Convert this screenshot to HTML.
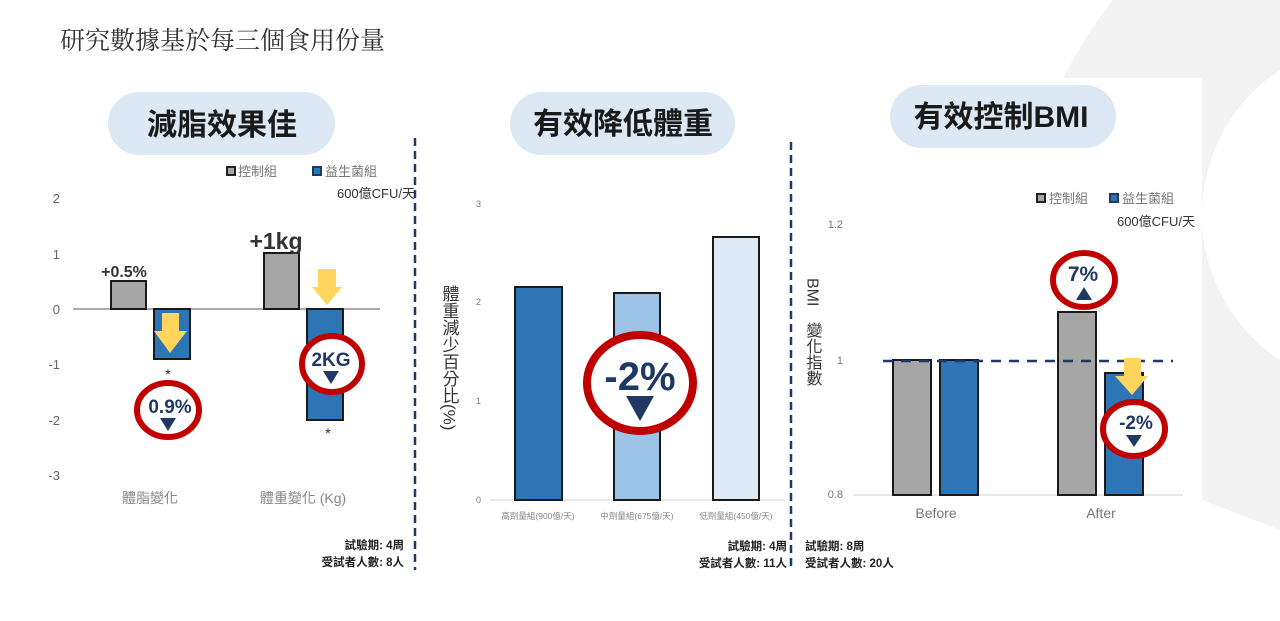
<!DOCTYPE html>
<html><head><meta charset="utf-8"><style>
html,body{margin:0;padding:0;background:#fff;}
svg{display:block;}
text{font-family:"Liberation Sans","Noto Sans CJK TC",sans-serif;}
.ser{font-family:"Liberation Serif","Noto Serif CJK SC",serif;}
.b{font-weight:bold;}
</style></head><body>
<svg width="1280" height="621" viewBox="0 0 1280 621" xmlns="http://www.w3.org/2000/svg">
<rect width="1280" height="621" fill="#fff"/>
<!-- background swoosh -->
<path d="M1113,0 L1280,0 L1280,530 L1202,500 L1202,78 L1063,78 Q1085,35 1113,0 Z" fill="#f3f3f3"/>
<circle cx="1376" cy="215" r="174" fill="#fff"/>
<rect x="1180" y="78" width="22" height="440" fill="#fff"/>

<text class="ser" x="60" y="49" font-size="25" fill="#333">研究數據基於每三個食用份量</text>

<!-- ===== Panel 1 ===== -->
<rect x="108" y="92" width="227" height="63" rx="31.5" fill="#dce8f4"/>
<text x="222" y="135" font-size="30" class="b" text-anchor="middle" fill="#1a1a1a">減脂效果佳</text>

<rect x="227" y="167" width="8" height="8" fill="#a6a6a6" stroke="#222" stroke-width="2"/>
<text x="238" y="176" font-size="13" fill="#777">控制組</text>
<rect x="313" y="167" width="8" height="8" fill="#2e75b6" stroke="#1f3864" stroke-width="2"/>
<text x="325" y="176" font-size="13" fill="#777">益生菌組</text>
<text x="415" y="198" font-size="13" text-anchor="end" fill="#333">600億CFU/天</text>

<g font-size="13" fill="#666" text-anchor="end">
<text x="60" y="203">2</text>
<text x="60" y="259">1</text>
<text x="60" y="314">0</text>
<text x="60" y="369">-1</text>
<text x="60" y="425">-2</text>
<text x="60" y="480">-3</text>
</g>
<line x1="73" y1="309" x2="380" y2="309" stroke="#777" stroke-width="1.2"/>

<rect x="111" y="281" width="35" height="28" fill="#a6a6a6" stroke="#1a1a1a" stroke-width="2"/>
<rect x="154" y="309" width="36" height="50" fill="#2e75b6" stroke="#1a1a1a" stroke-width="2"/>
<rect x="264" y="253" width="35" height="56" fill="#a6a6a6" stroke="#1a1a1a" stroke-width="2"/>
<rect x="307" y="309" width="36" height="111" fill="#2e75b6" stroke="#1a1a1a" stroke-width="2"/>

<text x="124" y="277" font-size="16" class="b" text-anchor="middle" fill="#333">+0.5%</text>
<text x="276" y="249" font-size="23" class="b" text-anchor="middle" fill="#333">+1kg</text>

<path d="M162,313 L179,313 L179,331 L187,331 L170,353 L154,331 L162,331 Z" fill="#ffd55e"/>
<path d="M318,269 L336,269 L336,287 L342,287 L327,305 L312,287 L318,287 Z" fill="#ffd55e"/>

<text x="168" y="379" font-size="14" text-anchor="middle" fill="#222">*</text>
<text x="328" y="438" font-size="14" text-anchor="middle" fill="#222">*</text>

<ellipse cx="168" cy="410" rx="31" ry="27" fill="#fff" stroke="#c00000" stroke-width="6"/>
<text x="170" y="413" font-size="19" class="b" text-anchor="middle" fill="#1f3864">0.9%</text>
<path d="M160,418 L176,418 L168,431 Z" fill="#1f3864"/>

<ellipse cx="332" cy="364" rx="30" ry="28" fill="#fff" stroke="#c00000" stroke-width="6"/>
<text x="331" y="366" font-size="19" class="b" text-anchor="middle" fill="#1f3864">2KG</text>
<path d="M323,371 L339,371 L331,384 Z" fill="#1f3864"/>

<text x="150" y="503" font-size="14" text-anchor="middle" fill="#888">體脂變化</text>
<text x="303" y="503" font-size="14" text-anchor="middle" fill="#888">體重變化 (Kg)</text>

<text x="404" y="549" font-size="11.5" class="b" text-anchor="end" fill="#222">試驗期: 4周</text>
<text x="404" y="566" font-size="11.5" class="b" text-anchor="end" fill="#222">受試者人數: 8人</text>

<line x1="415" y1="138" x2="415" y2="570" stroke="#1f3864" stroke-width="2.5" stroke-dasharray="8,5"/>

<!-- ===== Panel 2 ===== -->
<rect x="510" y="92" width="225" height="63" rx="31.5" fill="#dce8f4"/>
<text x="623" y="134" font-size="30" class="b" text-anchor="middle" fill="#1a1a1a">有效降低體重</text>

<g font-size="9" fill="#777" text-anchor="end">
<text x="481" y="207">3</text>
<text x="481" y="305">2</text>
<text x="481" y="404">1</text>
<text x="481" y="503">0</text>
</g>
<line x1="490" y1="500" x2="785" y2="500" stroke="#d9d9d9" stroke-width="1.2"/>

<rect x="515" y="287" width="47" height="213" fill="#2e75b6" stroke="#1a1a1a" stroke-width="2"/>
<rect x="614" y="293" width="46" height="207" fill="#9dc3e6" stroke="#1a1a1a" stroke-width="2"/>
<rect x="713" y="237" width="46" height="263" fill="#deebf7" stroke="#1a1a1a" stroke-width="2"/>

<g font-size="8.5" fill="#888" text-anchor="middle">
<text x="538" y="519">高劑量組(900億/天)</text>
<text x="637" y="519">中劑量組(675億/天)</text>
<text x="736" y="519">低劑量組(450億/天)</text>
</g>

<text x="449" y="285" font-size="17" fill="#333" style="writing-mode:vertical-rl;">體重減少百分比(%)</text>

<ellipse cx="640" cy="383" rx="53" ry="48" fill="#fff" stroke="#c00000" stroke-width="8"/>
<text x="640" y="390" font-size="40" class="b" text-anchor="middle" fill="#1f3864">-2%</text>
<path d="M626,396 L654,396 L640,421 Z" fill="#1f3864"/>

<text x="787" y="550" font-size="11.5" class="b" text-anchor="end" fill="#222">試驗期: 4周</text>
<text x="787" y="567" font-size="11.5" class="b" text-anchor="end" fill="#222">受試者人數: 11人</text>

<line x1="791" y1="142" x2="791" y2="570" stroke="#1f3864" stroke-width="2.5" stroke-dasharray="8,5"/>

<!-- ===== Panel 3 ===== -->
<rect x="890" y="85" width="226" height="63" rx="31.5" fill="#dce8f4"/>
<text x="1001" y="127" font-size="30" class="b" text-anchor="middle" fill="#1a1a1a">有效控制BMI</text>

<rect x="1037" y="194" width="8" height="8" fill="#a6a6a6" stroke="#222" stroke-width="2"/>
<text x="1049" y="203" font-size="13" fill="#777">控制組</text>
<rect x="1110" y="194" width="8" height="8" fill="#2e75b6" stroke="#1f3864" stroke-width="2"/>
<text x="1122" y="203" font-size="13" fill="#777">益生菌組</text>
<text x="1195" y="226" font-size="13" text-anchor="end" fill="#333">600億CFU/天</text>

<g font-size="11" fill="#777" text-anchor="end">
<text x="843" y="228">1.2</text>
<text x="843" y="364">1</text>
<text x="843" y="498">0.8</text>
</g>
<line x1="853" y1="495" x2="1183" y2="495" stroke="#d9d9d9" stroke-width="1.2"/>

<rect x="893" y="360" width="38" height="135" fill="#a6a6a6" stroke="#1a1a1a" stroke-width="2"/>
<rect x="940" y="360" width="38" height="135" fill="#2e75b6" stroke="#1a1a1a" stroke-width="2"/>
<rect x="1058" y="312" width="38" height="183" fill="#a6a6a6" stroke="#1a1a1a" stroke-width="2"/>
<rect x="1105" y="373" width="38" height="122" fill="#2e75b6" stroke="#1a1a1a" stroke-width="2"/>

<line x1="883" y1="361" x2="1173" y2="361" stroke="#1f3864" stroke-width="2.5" stroke-dasharray="10,8"/>

<path d="M1124,358 L1141,358 L1141,376 L1148,376 L1132,395 L1115,376 L1124,376 Z" fill="#ffd55e"/>

<text x="812" y="278" font-size="16" fill="#333" style="writing-mode:vertical-rl;">BMI</text>
<text x="812" y="322" font-size="16" fill="#333" style="writing-mode:vertical-rl;">變化指數</text>

<ellipse cx="1084" cy="280" rx="31" ry="27" fill="#fff" stroke="#c00000" stroke-width="6"/>
<text x="1083" y="281" font-size="21" class="b" text-anchor="middle" fill="#1f3864">7%</text>
<path d="M1084,287 L1092,300 L1076,300 Z" fill="#1f3864"/>

<ellipse cx="1134" cy="429" rx="31" ry="27" fill="#fff" stroke="#c00000" stroke-width="6"/>
<text x="1136" y="429" font-size="19" class="b" text-anchor="middle" fill="#1f3864">-2%</text>
<path d="M1126,435 L1142,435 L1134,447 Z" fill="#1f3864"/>

<text x="936" y="518" font-size="14" text-anchor="middle" fill="#777">Before</text>
<text x="1101" y="518" font-size="14" text-anchor="middle" fill="#777">After</text>

<text x="805" y="550" font-size="11.5" class="b" fill="#222">試驗期: 8周</text>
<text x="805" y="567" font-size="11.5" class="b" fill="#222">受試者人數: 20人</text>
</svg>
</body></html>
